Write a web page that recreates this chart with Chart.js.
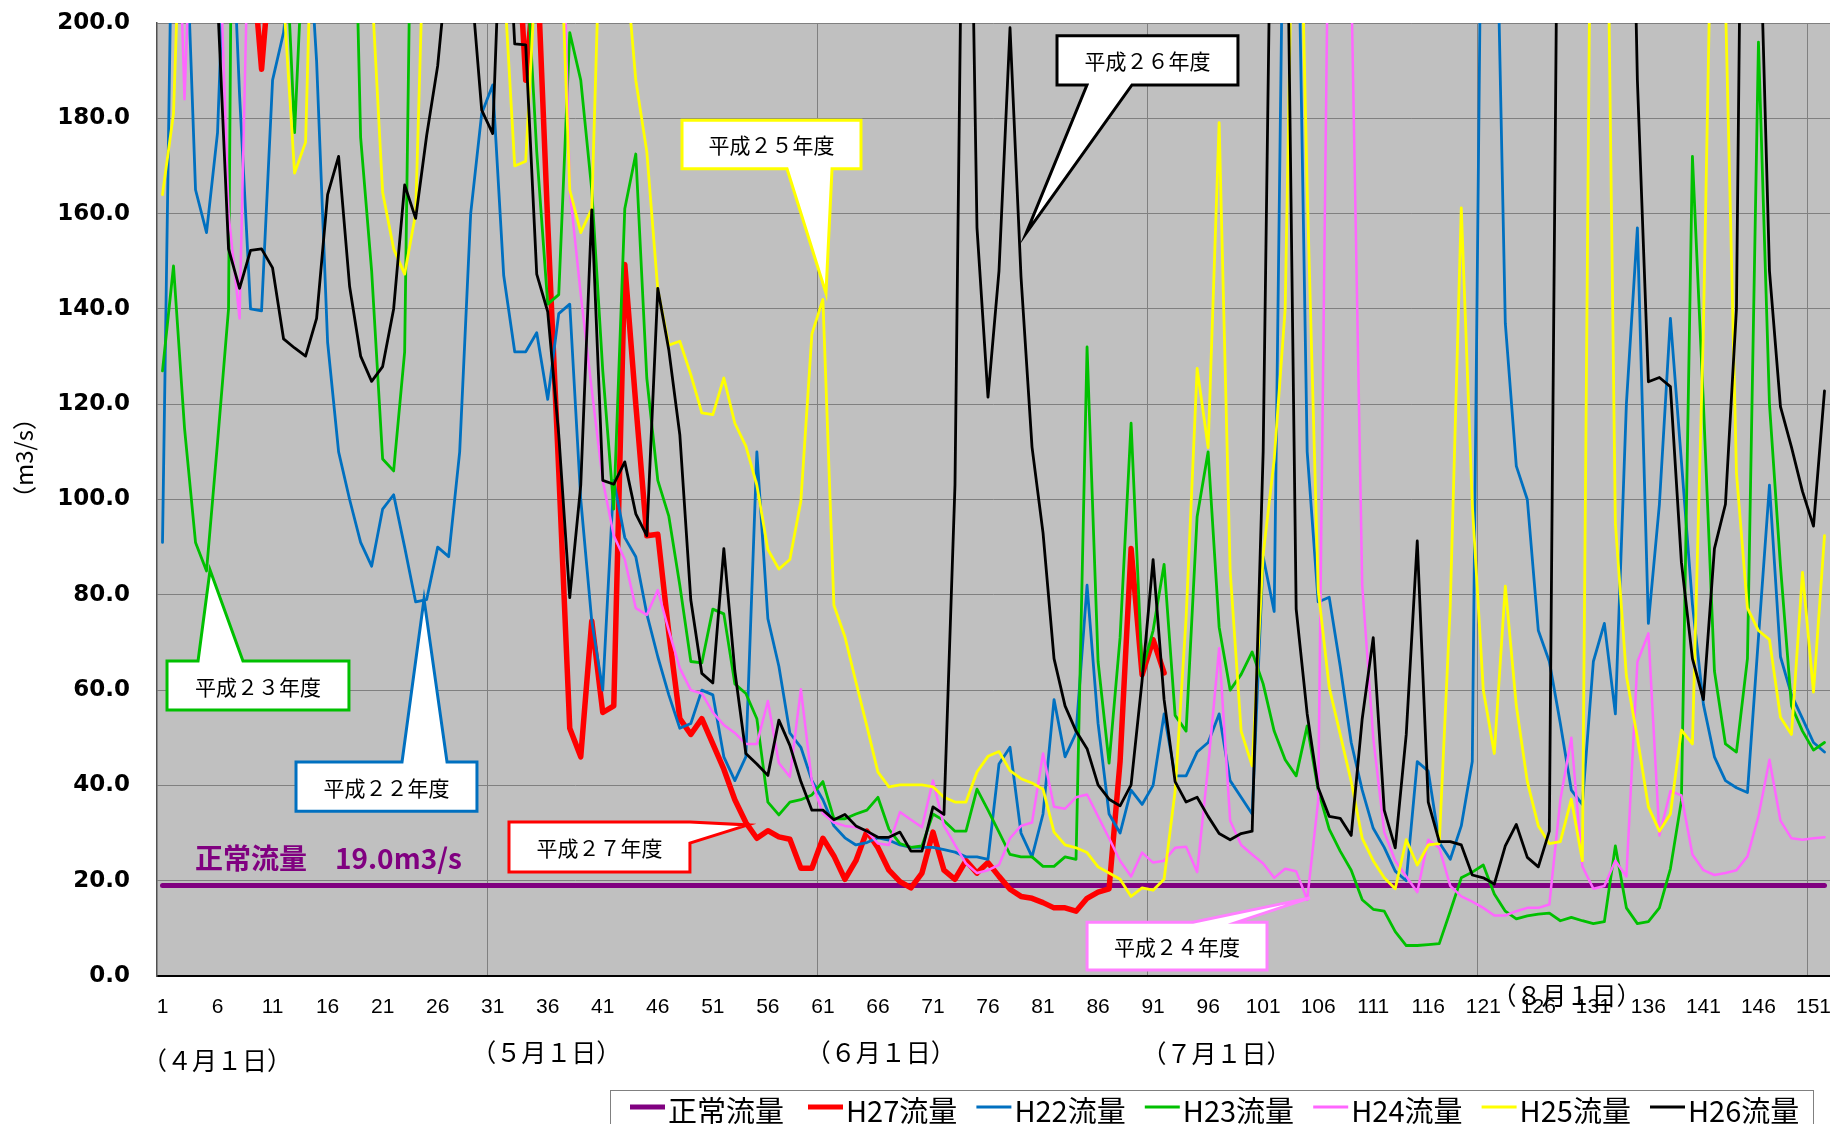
<!DOCTYPE html>
<html>
<head>
<meta charset="utf-8">
<script src="https://cdn.jsdelivr.net/npm/chart.js"></script>
<style>
  html, body { margin: 0; padding: 0; background: #fff; }
  canvas { display: block; }
</style>
</head>
<body>
<canvas id="flow" width="1830" height="1124"></canvas>
<script>
// days since 1 April
const days = [];
for (let d = 1; d <= 152; d++) days.push(String(d));

const normalFlow = 19.0;

const h27 = [300, 320, 280, 300, 350, 320, 300, 260, 218, 190.3,
  218, 280, 320, 300, 280, 320, 350, 300, 280, 260,
  300, 320, 280, 300, 320, 300, 280, 300, 320, 300,
  280, 260, 230, 188, 215, 158, 106, 52, 46, 74.5,
  55.3, 56.7, 149.3, 120, 92.4, 92.7, 72, 54, 50.7, 54,
  48.7, 43.4, 37, 32.2, 28.9, 30.5, 29.2, 28.7, 22.6, 22.6,
  28.9, 25.2, 20.3, 24.2, 30.4, 26.9, 22.2, 19.8, 18.5, 21.6,
  30.2, 22.2, 20.3, 24.2, 21.6, 23.8, 20.9, 18.2, 16.7, 16.3,
  15.4, 14.3, 14.3, 13.6, 16.3, 17.6, 18.3, 45, 89.7, 63.2,
  70.6, 63.6];

const h22 = [91, 247, 230, 165, 156, 177, 240, 185, 140, 139.6,
  188, 198, 220, 230, 192, 133, 110, 100, 91, 86,
  98, 101, 90, 78.5, 79, 90, 88, 110, 160, 181,
  187, 147, 131, 131, 135, 121, 139, 141, 100, 74.5,
  60, 104, 92, 88, 76, 67, 59, 52, 53, 60,
  59, 46, 41, 46, 110, 75, 65, 51, 48, 41,
  37, 31.5, 29, 27.5, 28, 29, 28.5, 27.5, 27, 27,
  27, 26.5, 26, 25, 25, 24.5, 44.5, 48, 30, 25,
  34, 58, 46, 51, 82, 53, 34, 30, 39, 36,
  40, 55, 42, 42, 47, 49, 55, 41, 37.5, 34,
  88, 76.5, 260, 250, 110, 78.5, 79.5, 65, 49, 39,
  31, 27, 22, 20, 45, 43, 28, 24.5, 31.5, 45,
  270, 250, 137, 107, 100, 72.5, 66, 53, 39, 36,
  66, 74, 55, 120, 157, 74, 99, 138, 108, 78,
  57, 46, 41, 39.5, 38.5, 71, 103, 67, 59, 54,
  49, 47];

const h23 = [127, 149, 115, 91, 85, 112, 140, 450, 300, 260,
  260, 228, 177, 228, 280, 300, 290, 276, 176, 148,
  108.5, 106, 131, 300, 320, 280, 300, 260, 240, 280,
  300, 260, 240, 215, 173, 141, 143, 198, 188, 165,
  127, 98, 161, 172.5, 125.5, 104, 96.5, 82, 66, 65.7,
  77, 76, 61.3, 59.3, 54, 36.5, 33.8, 36.5, 37, 38,
  40.8, 33, 33, 34, 34.8, 37.5, 30.8, 27.8, 27, 27.3,
  34, 32.6, 30.4, 30.4, 39.2, 34.8, 30.2, 25.5, 25, 25,
  23, 23, 25, 24.5, 132, 66, 44.7, 71, 116, 64,
  72.5, 86.4, 54.7, 51.4, 96.4, 110, 73.2, 60, 63.3, 68,
  61.3, 51.4, 45.4, 42, 52.5, 39, 30.8, 26.2, 22.2, 16,
  14, 13.6, 9.3, 6.4, 6.4, 6.6, 6.8, 13.6, 20.6, 21.8,
  23.3, 17.2, 13.6, 12, 12.6, 13, 13.2, 11.6, 12.3, 11.6,
  11, 11.4, 27.3, 14.3, 11, 11.4, 14.3, 22.5, 36.8, 172,
  120, 64, 48.7, 47, 66.6, 196, 120, 86, 56.7, 51.4,
  47.4, 49];

const h24 = [240, 260, 184, 250, 280, 230, 160, 138, 241, 300,
  320, 280, 300, 260, 280, 300, 320, 280, 260, 300,
  280, 260, 300, 320, 280, 300, 260, 280, 300, 320,
  300, 280, 300, 280, 260, 280, 260, 165, 143, 123,
  104, 92.4, 87.4, 77.2, 75.8, 81, 72.5, 64.6, 60, 59.3,
  55.3, 52.7, 51, 48.7, 48.7, 57.7, 44.7, 41.8, 60.2, 40.8,
  34.1, 32.2, 31.5, 31.2, 30.4, 27.8, 27.5, 34.4, 32.8, 31.2,
  41, 31.5, 27.5, 23.6, 21.6, 22.2, 23.3, 28.9, 31.5, 32.2,
  46.7, 35.5, 35.1, 37.5, 38.1, 33.5, 28.9, 24.2, 20.9, 25.9,
  23.8, 24.2, 26.9, 27.1, 21.8, 44, 68.8, 32.6, 27.5, 25.5,
  23.6, 20.6, 22.5, 22, 16, 36.8, 240, 260, 210, 82,
  50, 30.2, 24.2, 20.9, 17.6, 28.6, 26.9, 18.9, 16.7, 15.6,
  14.3, 12.7, 12.7, 13.6, 14.3, 14.3, 15, 37, 50, 23,
  18.3, 18.9, 24.2, 20.9, 65.9, 71.9, 29.5, 38.8, 37.9, 25.5,
  22.2, 21.2, 21.6, 22.2, 25.1, 33.5, 45.4, 32.6, 28.9, 28.6,
  28.9, 29.1];

const h25 = [164, 181, 250, 300, 280, 320, 300, 280, 260, 300,
  240, 205, 168.5, 175, 260, 300, 280, 260, 240, 208,
  164.5, 152.6, 147.3, 160, 240, 280, 300, 320, 280, 260,
  240, 210, 170, 171, 215, 260, 230, 165, 156, 161,
  240, 280, 215, 188, 173, 144, 132.4, 133.2, 126.2, 118.2,
  117.8, 125.5, 116, 111.2, 103, 89.5, 85.4, 87.4, 99.7, 134.7,
  142, 77.8, 71.2, 61.7, 52.4, 42.8, 39.7, 40.1, 40.1, 40.1,
  39.7, 37.5, 36.5, 36.5, 42.8, 46.1, 47.1, 43.1, 41.4, 40.5,
  39.2, 30.2, 27.5, 26.9, 25.9, 22.9, 21.6, 20.3, 16.7, 18.5,
  18, 20.3, 38.8, 75.2, 127.5, 110.9, 179.1, 85.1, 51.4, 44.1,
  88.4, 108.3, 140, 270, 165, 81, 60.6, 50.7, 40.8, 28.9,
  24.2, 20.6, 18.3, 28.6, 23.3, 27.5, 27.8, 77.8, 161.2, 99,
  60, 46.7, 81.8, 56.7, 40.8, 31.5, 27.8, 28.2, 37.1, 24.2,
  300, 280, 95, 63, 50, 35.5, 30.4, 34, 51.6, 48.7,
  136, 260, 205, 105.6, 77.2, 72.5, 70.6, 54.3, 50.7, 84.7,
  59.6, 92.4];

const h26 = [260, 300, 280, 320, 260, 205, 152.6, 144.3, 152.3, 152.6,
  148.6, 133.7, 131.8, 130.1, 138, 164, 172, 144.7, 130.1, 124.8,
  127.9, 140, 166, 159, 176.4, 191, 215, 260, 210, 181.7,
  176.8, 240, 195.6, 195.4, 147.3, 139.4, 113.6, 79.4, 103, 160.8,
  104, 103.2, 107.9, 97, 92.4, 144.3, 131.4, 113.6, 78.9, 63.5,
  61.5, 89.7, 64, 46.7, 44.5, 42.1, 53.7, 48.4, 40.8, 34.8,
  34.8, 32.8, 33.9, 31.5, 30.4, 29.1, 29.1, 30.2, 26.2, 26.2,
  35.5, 33.9, 103, 300, 157, 121.5, 148, 199, 146.7, 111,
  93, 66.6, 56.7, 51.4, 47.7, 40.1, 37.1, 35.7, 40.1, 62,
  87.4, 58, 40.8, 36.5, 37.5, 33.5, 29.9, 28.6, 29.9, 30.4,
  110, 280, 260, 77, 55, 39.5, 33.5, 33.1, 29.5, 54,
  71, 34.8, 26.9, 50.7, 91.3, 36.5, 28.2, 28.2, 27.5, 21.2,
  20.6, 19.3, 27.3, 31.8, 24.9, 22.9, 30.4, 300, 320, 280,
  300, 320, 280, 300, 188, 124.7, 125.6, 123.7, 86.8, 66.6,
  58, 89.7, 99, 140, 360, 233, 148, 119.5, 111, 101.7,
  94.4, 122.8];

const yTickStep = 20;
const xLabelEvery = 5;
const monthLabels = ['（４月１日）', '（５月１日）', '（６月１日）', '（７月１日）', '（８月１日）'];
const monthLabelDays = [0.6, 30.5, 60.9, 91.4, 123.2];

// callouts: box [day from, day to, value top, value bottom], pointer base on one side, tip [day, value]
const callouts = [
  { text: '平成２３年度', color: '#00c000', box: [1.41, 17.94, 66.1, 55.8], side: 'top', base: [4.23, 8.31], tip: [5.32, 85.2] },
  { text: '平成２２年度', color: '#0070c0', box: [13.13, 29.57, 44.9, 34.6], side: 'top', base: [22.76, 26.85], tip: [24.76, 79.1] },
  { text: '平成２７年度', color: '#ff0000', box: [32.48, 48.92, 32.3, 21.8], side: 'right', base: [32.3, 27.9], tip: [54.19, 31.7] },
  { text: '平成２５年度', color: '#ffff00', box: [48.2, 64.46, 179.6, 169.4], side: 'bottom', base: [57.74, 61.83], tip: [61.28, 143.3] },
  { text: '平成２６年度', color: '#000000', box: [82.27, 98.71, 197.3, 187.0], side: 'bottom', base: [84.99, 89.08], tip: [79.47, 155.9] },
  { text: '平成２４年度', color: '#ff80ff', box: [85.0, 101.35, 11.3, 1.26], side: 'top', base: [94.62, 98.62], tip: [105.25, 16.4] }
];

const cjk = '"Noto Sans CJK JP", "Noto Sans", sans-serif';

const plotBg = {
  id: 'plotBg',
  beforeDraw(chart) {
    const a = chart.chartArea, c = chart.ctx;
    c.save();
    c.fillStyle = '#c0c0c0';
    c.fillRect(a.left, a.top, a.right - a.left, a.bottom - a.top);
    c.restore();
  }
};

const overlay = {
  id: 'overlay',
  afterDatasetsDraw(chart) {
    const c = chart.ctx, xs = chart.scales.x, ys = chart.scales.y;
    const px = d => xs.getPixelForValue(d - 1);
    const py = v => ys.getPixelForValue(v);

    // normal flow label
    c.save();
    c.fillStyle = '#800080';
    c.font = 'bold 28px ' + cjk;
    c.textBaseline = 'middle';
    c.fillText('正常流量　' + normalFlow.toFixed(1) + 'm3/s', px(3.95), py(24.6));
    c.restore();

    callouts.forEach(o => {
      const L = px(o.box[0]), R = px(o.box[1]), T = py(o.box[2]), B = py(o.box[3]);
      const ax = px(o.tip[0]), ay = py(o.tip[1]);
      c.save();
      c.beginPath();
      c.moveTo(L, T);
      if (o.side === 'top') {
        c.lineTo(px(o.base[0]), T); c.lineTo(ax, ay); c.lineTo(px(o.base[1]), T);
      }
      c.lineTo(R, T);
      if (o.side === 'right') {
        c.lineTo(R, py(o.base[0])); c.lineTo(ax, ay); c.lineTo(R, py(o.base[1]));
      }
      c.lineTo(R, B);
      if (o.side === 'bottom') {
        c.lineTo(px(o.base[1]), B); c.lineTo(ax, ay); c.lineTo(px(o.base[0]), B);
      }
      c.lineTo(L, B);
      c.closePath();
      c.fillStyle = '#ffffff';
      c.fill();
      c.strokeStyle = o.color;
      c.lineWidth = 3;
      c.lineJoin = 'miter';
      c.stroke();
      c.fillStyle = '#000';
      c.font = '21px ' + cjk;
      c.textAlign = 'center';
      c.textBaseline = 'middle';
      c.fillText(o.text, (L + R) / 2, (T + B) / 2 + 1);
      c.restore();
    });
  },
  afterDraw(chart) {
    const c = chart.ctx, xs = chart.scales.x, a = chart.chartArea;
    c.save();

    // y axis title
    c.fillStyle = '#000';
    c.font = '24px ' + cjk;
    c.textAlign = 'center';
    c.textBaseline = 'middle';
    c.translate(24, 458);
    c.rotate(-Math.PI / 2);
    c.fillText('（m3/s）', 0, 0);
    c.setTransform(1, 0, 0, 1, 0, 0);

    // month labels under the axis
    c.font = '25px ' + cjk;
    c.textAlign = 'left';
    const rows = [84, 76, 76, 77, 19];
    monthLabels.forEach((t, i) => {
      c.fillText(t, xs.getPixelForValue(monthLabelDays[i] - 1) - 16, a.bottom + rows[i]);
    });

    // legend
    const top = a.bottom + 114;
    c.fillStyle = '#fff';
    c.fillRect(610, top, 1203, 60);
    c.strokeStyle = '#808080';
    c.lineWidth = 1;
    c.strokeRect(610.5, top + 0.5, 1203, 60);
    c.font = '29px ' + cjk;
    c.textBaseline = 'middle';
    chart.data.datasets.forEach((ds, i) => {
      const x = 630 + (i > 0 ? 178 + (i - 1) * 168.4 : 0);
      c.strokeStyle = ds.borderColor;
      c.lineWidth = ds.borderWidth > 4 ? 5 : 3;
      c.lineCap = 'butt';
      c.beginPath();
      c.moveTo(x, top + 17);
      c.lineTo(x + 35, top + 17);
      c.stroke();
      c.fillStyle = '#000';
      c.fillText(ds.label, x + 38, top + 21);
    });
    c.restore();
  }
};

const line = (label, data, color, width, order) => ({
  label, data, borderColor: color, backgroundColor: color, borderWidth: width,
  pointRadius: 0, fill: false, tension: 0, clip: 0, order,
  borderJoinStyle: 'round', borderCapStyle: 'round'
});

new Chart(document.getElementById('flow').getContext('2d'), {
  type: 'line',
  data: {
    labels: days,
    datasets: [
      line('正常流量', [{ x: days[0], y: normalFlow }, { x: days[days.length - 1], y: normalFlow }], '#800080', 5, 7),
      line('H27流量', h27, '#ff0000', 5.5, 6),
      line('H22流量', h22, '#0070c0', 2.8, 5),
      line('H23流量', h23, '#00c000', 2.8, 4),
      line('H24流量', h24, '#ff66ff', 2.5, 3),
      line('H25流量', h25, '#ffff00', 2.8, 2),
      line('H26流量', h26, '#000000', 2.8, 1)
    ]
  },
  options: {
    responsive: false,
    animation: false,
    events: [],
    layout: { autoPadding: false, padding: { top: 23, right: 0, left: 0, bottom: 0 } },
    plugins: { legend: { display: false }, tooltip: { enabled: false } },
    scales: {
      x: {
        type: 'category',
        offset: true,
        afterFit: s => { s.height = 148; },
        grid: {
          offset: true,
          drawTicks: true,
          tickLength: 19,
          tickColor: 'rgba(0,0,0,0)',
          lineWidth: 1,
          color: ctx => (ctx.index > 0 && ctx.index % 30 === 0) ? '#808080' : 'rgba(0,0,0,0)'
        },
        border: { display: true, color: '#000', width: 2 },
        ticks: {
          autoSkip: false,
          maxRotation: 0,
          minRotation: 0,
          padding: 0,
          color: '#000',
          font: { family: '"Liberation Sans", Arial, sans-serif', size: 21 },
          callback: (v, i) => (i % xLabelEvery === 0 ? days[i] : '')
        }
      },
      y: {
        min: 0,
        max: 200,
        afterFit: s => { s.width = 157; },
        grid: { color: '#808080', lineWidth: 1, drawTicks: true, tickLength: 27, tickColor: 'rgba(0,0,0,0)' },
        border: { display: true, color: '#505050', width: 1.5 },
        ticks: {
          stepSize: yTickStep,
          padding: 0,
          color: '#000',
          font: { family: '"DejaVu Sans", sans-serif', size: 23, weight: 'bold' },
          callback: v => Number(v).toFixed(1)
        }
      }
    }
  },
  plugins: [plotBg, overlay]
});
</script>
</body>
</html>
